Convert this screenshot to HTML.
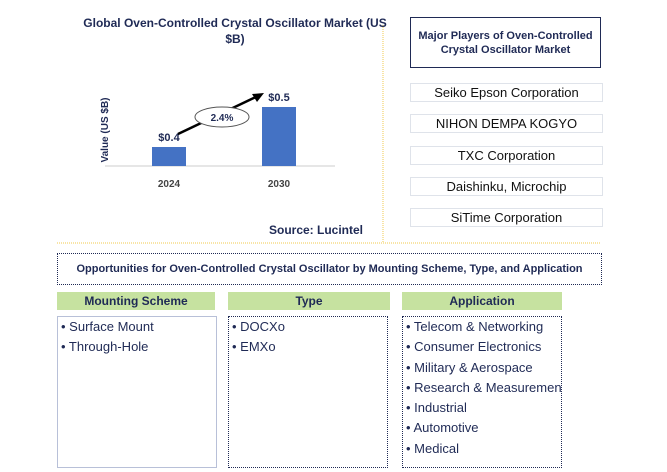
<!DOCTYPE html>
<html><head><meta charset="utf-8"><style>
body{margin:0;width:667px;height:472px;background:#fff;position:relative;font-family:"Liberation Sans",Arial,sans-serif;color:#1f2a55;overflow:hidden}
.a{position:absolute}
.pl{position:absolute;left:410px;width:191px;height:17px;border:1px solid #dfe3ea;font-size:13px;text-align:center;line-height:17px;color:#111}
.hd{position:absolute;top:292px;height:18px;background:#c6e2a0;font-weight:bold;font-size:12px;text-align:center;line-height:18px;color:#1f2a55}
.bx{position:absolute;top:316px;height:150px;font-size:13px;color:#1f2a55}
.bx div{height:20.3px;line-height:20px;padding-left:3px}
</style></head><body>
<svg class="a" style="left:0;top:0" width="667" height="472">
<line x1="383" y1="25" x2="383" y2="243" stroke="#f2c94c" stroke-dasharray="1,1"/>
<line x1="57" y1="243" x2="600" y2="243" stroke="#f2c94c" stroke-dasharray="1,1"/>
<text x="235" y="27" text-anchor="middle" font-size="12" font-weight="bold" fill="#1f2a55">Global Oven-Controlled Crystal Oscillator Market (US</text>
<text x="235" y="43" text-anchor="middle" font-size="12" font-weight="bold" fill="#1f2a55">$B)</text>
<text transform="translate(108,130) rotate(-90)" text-anchor="middle" font-size="10" font-weight="bold" fill="#1f2a55">Value (US $B)</text>
<line x1="105" y1="166" x2="335" y2="166" stroke="#ccc"/>
<g id="bars"></g>
<line x1="178" y1="134" x2="258" y2="96" stroke="#000" stroke-width="2.5"/>
<polygon points="264,93 252,94 257,102" fill="#000"/>
<ellipse cx="222" cy="117" rx="27" ry="10" fill="#fff" stroke="#555"/>
<text x="222" y="121" text-anchor="middle" font-size="10" font-weight="bold" fill="#1f2a55">2.4%</text>
<text x="363" y="234" text-anchor="end" font-size="12" font-weight="bold" fill="#1f2a55">Source: Lucintel</text>
</svg>
<script>
const years=["2024","2030"];
const values=[0.4,0.5];
const labels=["$0.4","$0.5"];
const g=document.getElementById('bars');const ns="http://www.w3.org/2000/svg";
const base=166,yMin=0.3525,k=400;
function y(v){return base-(v-yMin)*k;}
function x(i){return 169+i*110;}
years.forEach((yr,i)=>{
 const r=document.createElementNS(ns,'rect');
 
 
 r.setAttribute('x',x(i)-17);r.setAttribute('width',34);r.setAttribute('y',y(values[i]));r.setAttribute('height',base-y(values[i]));r.setAttribute('fill','#4472c4');g.appendChild(r);
 const t=document.createElementNS(ns,'text');
 
 
 t.setAttribute('x',x(i));t.setAttribute('y',y(values[i])-6);t.setAttribute('text-anchor','middle');t.setAttribute('font-size','11');t.setAttribute('font-weight','bold');t.setAttribute('fill','#1f2a55');t.textContent=labels[i];g.appendChild(t);
 const l=document.createElementNS(ns,'text');
 
 
 l.setAttribute('x',x(i));l.setAttribute('y',187);l.setAttribute('text-anchor','middle');l.setAttribute('font-size','10');l.setAttribute('font-weight','bold');l.setAttribute('fill','#444');l.textContent=yr;g.appendChild(l);
});
</script>
<div class="a" style="left:410px;top:17px;width:191px;height:51px;border:1px solid #1f2a55;box-sizing:border-box;font-size:11px;font-weight:bold;text-align:center;padding-top:11px;line-height:14px">Major Players of Oven-Controlled Crystal Oscillator Market</div>
<div class="pl" style="top:83px">Seiko Epson Corporation</div>
<div class="pl" style="top:114px">NIHON DEMPA KOGYO</div>
<div class="pl" style="top:146px">TXC Corporation</div>
<div class="pl" style="top:177px">Daishinku, Microchip</div>
<div class="pl" style="top:208px">SiTime Corporation</div>
<div class="a" style="left:57px;top:253px;width:545px;height:32px;border:1px dotted #1f2a55;box-sizing:border-box;font-size:11px;font-weight:bold;text-align:center;line-height:30px">Opportunities for Oven-Controlled Crystal Oscillator by Mounting Scheme, Type, and Application</div>
<div class="hd" style="left:57px;width:158px">Mounting Scheme</div>
<div class="hd" style="left:228px;width:162px">Type</div>
<div class="hd" style="left:402px;width:160px">Application</div>
<div class="bx" style="left:57px;width:158px;border:1px solid #b8c0d8"><div>• Surface Mount</div><div>• Through-Hole</div></div>
<div class="bx" style="left:228px;width:158px;border:1px dotted #1f2a55"><div>• DOCXo</div><div>• EMXo</div></div>
<div class="bx" style="left:402px;width:158px;border:1px dotted #1f2a55;overflow:hidden;white-space:nowrap"><div>• Telecom &amp; Networking</div><div>• Consumer Electronics</div><div>• Military &amp; Aerospace</div><div>• Research &amp; Measurement</div><div>• Industrial</div><div>• Automotive</div><div>• Medical</div></div>
</body></html>
